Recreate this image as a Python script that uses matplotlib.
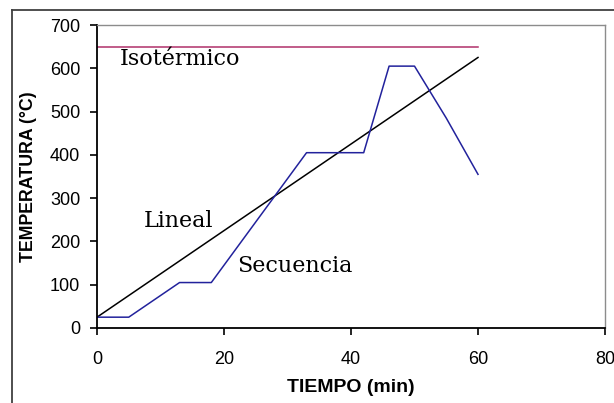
import matplotlib
matplotlib.use("Agg")
import matplotlib.pyplot as plt
from matplotlib.lines import Line2D

# ── Data ──────────────────────────────────────────────────────────────────────
iso_t = [0, 60]
iso_T = [650, 650]

lin_t = [0, 60]
lin_T = [25, 625]

seq_t = [0, 5, 13, 18, 33, 42, 46, 50, 55, 60]
seq_T = [25, 25, 105, 105, 405, 405, 605, 605, 485, 355]

x_ticks = [0, 20, 40, 60, 80]
y_ticks = [0, 100, 200, 300, 400, 500, 600, 700]

# ── Figure ────────────────────────────────────────────────────────────────────
fig = plt.figure(figsize=(6.14, 4.03), dpi=100)
ax = fig.add_axes([97 / 614, 1 - 328 / 403, 508 / 614, 303 / 403])

ax.plot(iso_t, iso_T, color="#b0306a", lw=1.1)
ax.plot(lin_t, lin_T, color="black", lw=1.1)
ax.plot(seq_t, seq_T, color="#22229c", lw=1.1)

ax.set_xlim(0, 80)
ax.set_ylim(0, 700)
ax.set_xticks(x_ticks)
ax.set_yticks(y_ticks)

tick_font = dict(family="Liberation Sans", size=13)
ax.set_xticklabels([str(v) for v in x_ticks], **tick_font)
ax.set_yticklabels([str(v) for v in y_ticks], **tick_font)
ax.tick_params(axis="x", direction="out", length=5, width=1.2, pad=11.5)
ax.tick_params(axis="y", direction="out", length=5, width=1.2, pad=7)

for side in ["left", "bottom"]:
    ax.spines[side].set_color("black")
    ax.spines[side].set_linewidth(1.3)
for side in ["top", "right"]:
    ax.spines[side].set_color("#8c8c8c")
    ax.spines[side].set_linewidth(1.0)

ax.set_xlabel("TIEMPO (min)", labelpad=8, family="Liberation Sans",
              size=14, weight="bold")
ax.set_ylabel("TEMPERATURA (°C)", labelpad=9, family="Liberation Sans",
              size=12.8, weight="bold")

# series labels
serif = dict(family="DejaVu Serif", size=16, va="baseline", ha="left")
ax.text(3.6, 607, "Isotérmico", **serif)
ax.text(7.4, 233, "Lineal", **serif)
ax.text(22.0, 129, "Secuencia", **serif)

# outer frame (left and top edge visible)
fig.add_artist(Line2D([12 / 614, 12 / 614], [0, 1 - 10 / 403],
                      transform=fig.transFigure, color="#404040", lw=1.3))
fig.add_artist(Line2D([12 / 614, 1], [1 - 10 / 403, 1 - 10 / 403],
                      transform=fig.transFigure, color="#404040", lw=1.3))

fig.savefig("out.png", dpi=100)
